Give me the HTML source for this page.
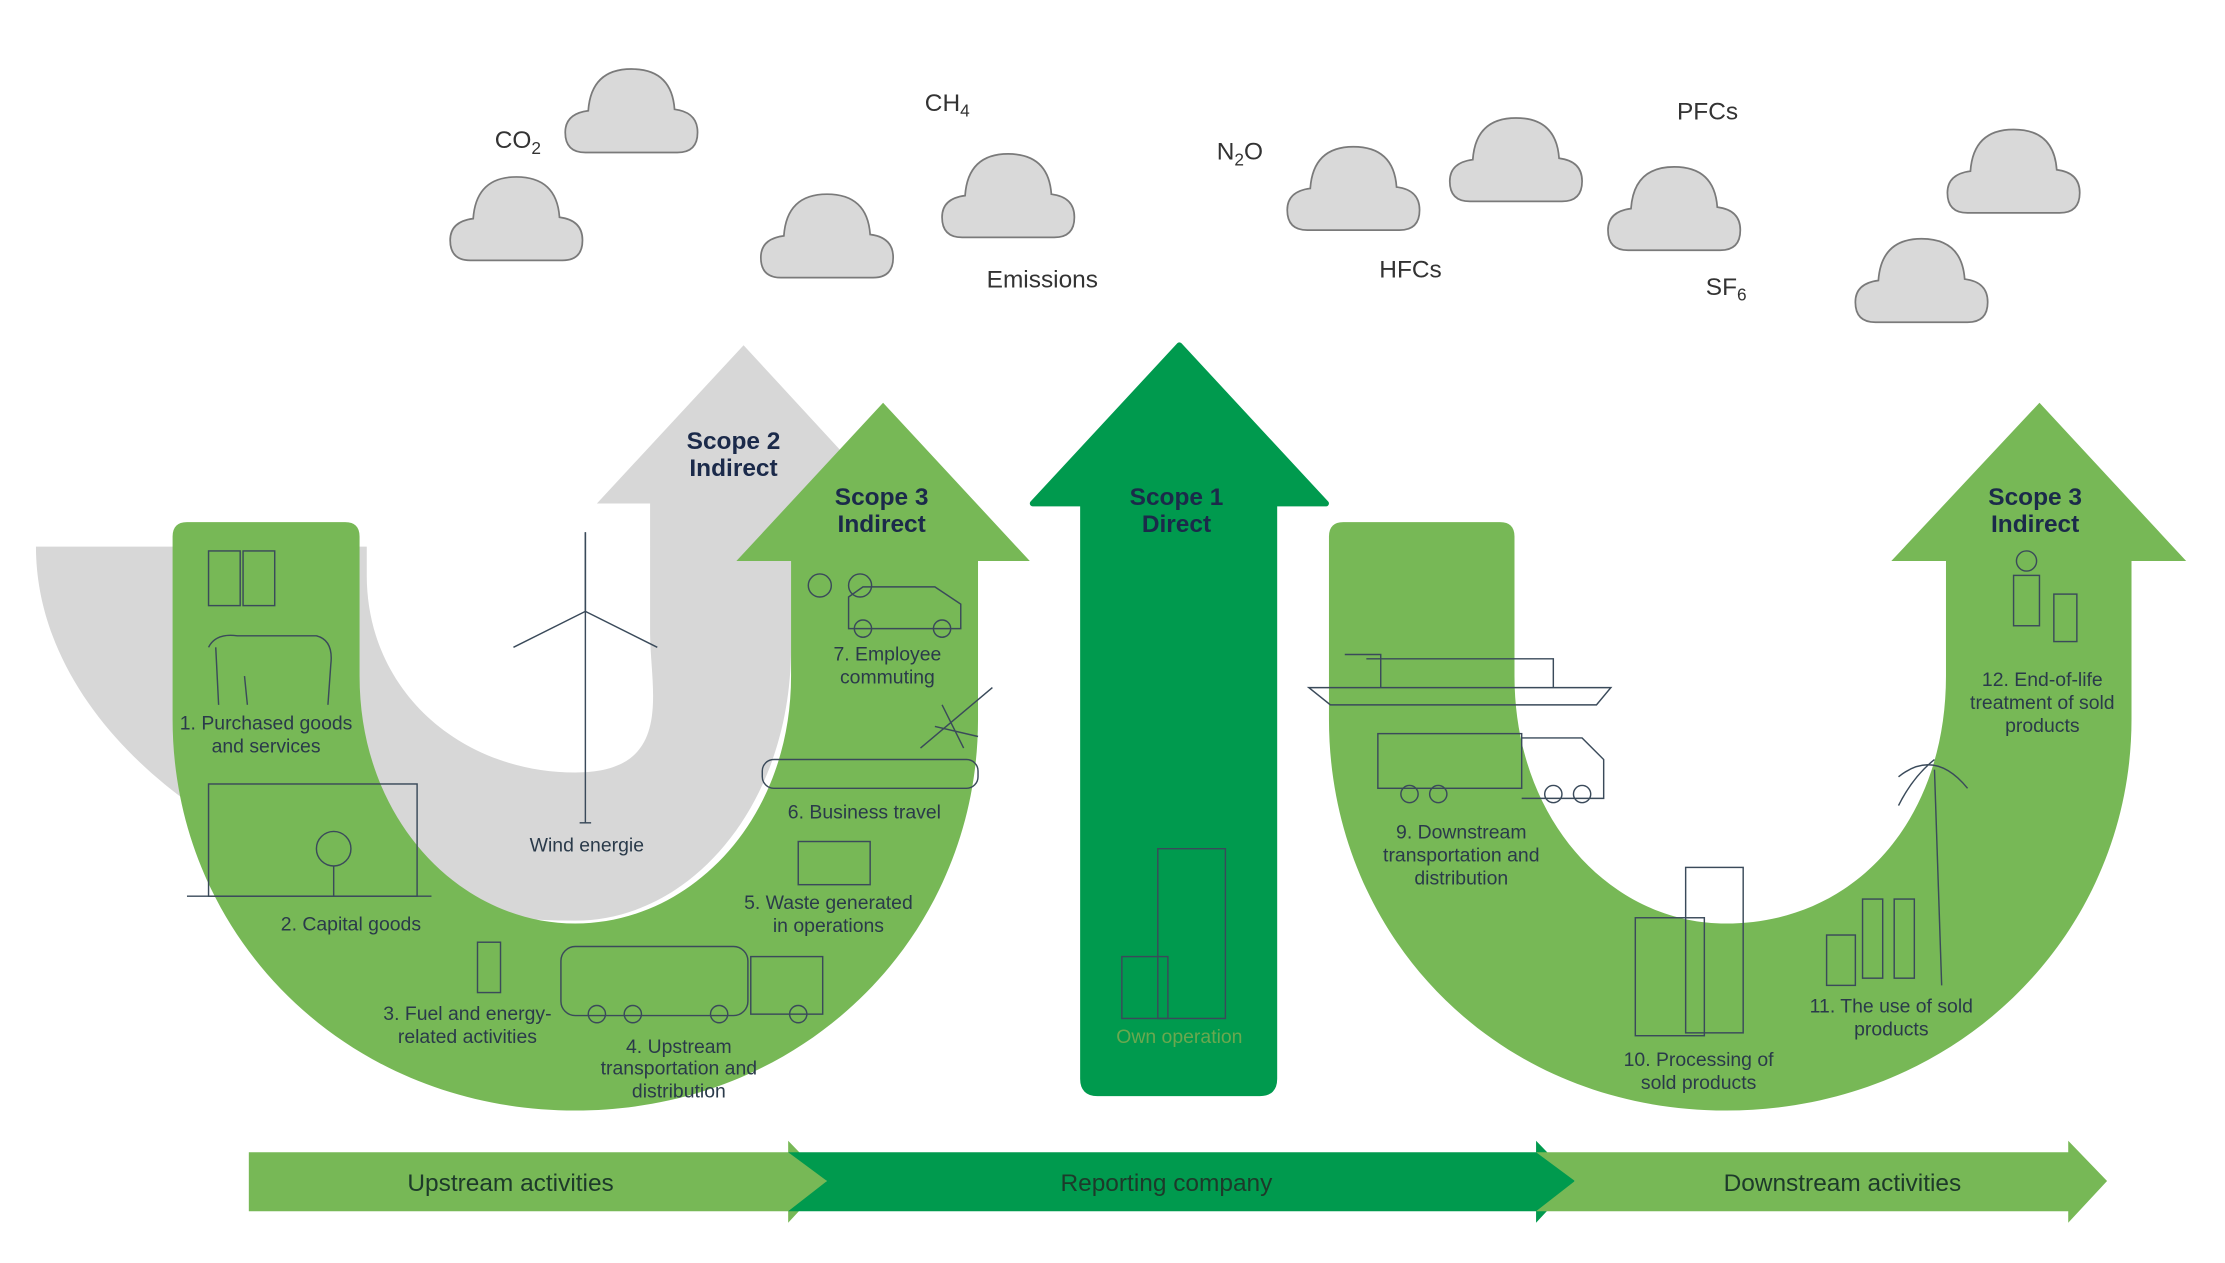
<!DOCTYPE html>
<html><head><meta charset="utf-8"><style>
html,body{margin:0;padding:0;background:#fff}
svg{display:block}
text{font-family:"Liberation Sans",sans-serif}
</style></head><body>
<svg width="2225" height="1263" viewBox="0 0 1547 878" preserveAspectRatio="none" xmlns="http://www.w3.org/2000/svg">
<defs>
<path id="cl" d="M-32,28 Q-46,28 -46,14 Q-46,1 -30,-1 Q-28,-30 0,-30 Q28,-30 30,-2 Q46,0 46,14 Q46,28 32,28 Z" fill="#d9d9d9" stroke="#7a7a7a" stroke-width="1.2"/>
</defs>
<rect width="1547" height="878" fill="#fff"/>
<!-- clouds -->
<use href="#cl" x="439" y="78"/>
<use href="#cl" x="359" y="153"/>
<use href="#cl" x="575" y="165"/>
<use href="#cl" x="701" y="137"/>
<use href="#cl" x="941" y="132"/>
<use href="#cl" x="1054" y="112"/>
<use href="#cl" x="1164" y="146"/>
<use href="#cl" x="1400" y="120"/>
<use href="#cl" x="1336" y="196"/>
<g fill="#333" font-size="17">
<text x="344" y="103">CO<tspan font-size="12" dy="4">2</tspan></text>
<text x="643" y="77">CH<tspan font-size="12" dy="4">4</tspan></text>
<text x="846" y="111">N<tspan font-size="12" dy="4">2</tspan><tspan dy="-4">O</tspan></text>
<text x="1166" y="83">PFCs</text>
<text x="686" y="200">Emissions</text>
<text x="959" y="193">HFCs</text>
<text x="1186" y="205">SF<tspan font-size="12" dy="4">6</tspan></text>
</g>
<!-- gray scope 2 -->
<path d="M25,380 L255,380 L255,400 C255,480 320,537 400,537 C470,537 452,480 452,440 L452,350 L415,350 L517,240 L600,330 L550,350 L550,450 C550,560 480,640 400,640 C200,640 25,520 25,380 Z" fill="#d7d7d7"/>
<!-- green left U -->
<path d="M130,363 L240,363 Q250,363 250,373 L250,470 C250,570 320,642 400,642 C480,642 550,570 550,470 L550,390 L512,390 L614,280 L716,390 L680,390 L680,500 C680,650 560,772 400,772 C240,772 120,650 120,500 L120,373 Q120,363 130,363 Z" fill="#77b856"/>
<!-- scope 1 -->
<path d="M753,350 L718,350 L820,240 L922,350 L886,350 L886,750 Q886,760 876,760 L763,760 Q753,760 753,750 Z" fill="#009a4e" stroke="#009a4e" stroke-width="4" stroke-linejoin="round"/>
<!-- green right U -->
<path d="M934,363 L1043,363 Q1053,363 1053,373 L1053,470 C1053,570 1120,642 1200,642 C1290,642 1353,570 1353,470 L1353,390 L1315,390 L1418,280 L1520,390 L1482,390 L1482,500 C1482,650 1360,772 1200,772 C1040,772 924,650 924,500 L924,373 Q924,363 934,363 Z" fill="#77b856"/>
<!-- bottom arrows -->
<path d="M173,801 L548,801 L548,793 L575,821 L548,850 L548,842 L173,842 Z" fill="#77b856"/>
<path d="M548,801 L1068,801 L1068,793 L1095,821 L1068,850 L1068,842 L548,842 L575,821 Z" fill="#009a4e"/>
<path d="M1068,801 L1438,801 L1438,793 L1465,821 L1438,850 L1438,842 L1068,842 L1095,821 Z" fill="#77b856"/>
<g font-size="17" fill="#1d3a2a" text-anchor="middle">
<text x="355" y="828">Upstream activities</text>
<text x="811" y="828">Reporting company</text>
<text x="1281" y="828">Downstream activities</text>
</g>
<!-- scope titles -->
<g font-size="17" font-weight="bold" fill="#1b2a4a" text-anchor="middle">
<text x="510" y="312">Scope 2</text><text x="510" y="331">Indirect</text>
<text x="613" y="351">Scope 3</text><text x="613" y="370">Indirect</text>
<text x="818" y="351">Scope 1</text><text x="818" y="370">Direct</text>
<text x="1415" y="351">Scope 3</text><text x="1415" y="370">Indirect</text>
</g>
<!-- icons (simplified line art) -->
<g fill="none" stroke="#3a4a5a" stroke-width="1">
<line x1="407" y1="370" x2="407" y2="572"/><line x1="403" y1="572" x2="411" y2="572"/>
<line x1="407" y1="425" x2="357" y2="450"/><line x1="407" y1="425" x2="457" y2="450"/><line x1="407" y1="425" x2="407" y2="370"/>
<rect x="145" y="383" width="22" height="38"/><rect x="169" y="383" width="22" height="38"/>
<path d="M145,450 Q150,440 165,442 L220,442 Q232,445 230,462 L228,490 M150,450 L152,490 M170,470 L172,490"/>
<rect x="145" y="545" width="145" height="78"/><line x1="130" y1="623" x2="300" y2="623"/>
<circle cx="232" cy="590" r="12"/><line x1="232" y1="602" x2="232" y2="623"/>
<rect x="332" y="655" width="16" height="35"/>
<rect x="390" y="658" width="130" height="48" rx="10"/><rect x="522" y="665" width="50" height="40"/>
<circle cx="415" cy="705" r="6"/><circle cx="440" cy="705" r="6"/><circle cx="500" cy="705" r="6"/><circle cx="555" cy="705" r="6"/>
<rect x="555" y="585" width="50" height="30"/>
<rect x="530" y="528" width="150" height="20" rx="8"/>
<path d="M590,415 L600,408 L650,408 L668,420 L668,437 L590,437 Z"/><circle cx="600" cy="437" r="6"/><circle cx="655" cy="437" r="6"/>
<circle cx="570" cy="407" r="8"/><circle cx="598" cy="407" r="8"/>
<path d="M640,520 L690,478 M655,490 L670,520 M650,505 L680,512"/>
<rect x="805" y="590" width="47" height="118"/><rect x="780" y="665" width="32" height="43"/>
<path d="M910,478 L1120,478 L1110,490 L925,490 Z M935,455 L960,455 L960,478 M950,458 L1080,458 L1080,478"/>
<rect x="958" y="510" width="100" height="38"/><path d="M1058,513 L1100,513 L1115,528 L1115,555 L1058,555"/>
<circle cx="980" cy="552" r="6"/><circle cx="1000" cy="552" r="6"/><circle cx="1080" cy="552" r="6"/><circle cx="1100" cy="552" r="6"/>
<rect x="1400" y="400" width="18" height="35"/><circle cx="1409" cy="390" r="7"/><rect x="1428" y="413" width="16" height="33"/>
<line x1="1345" y1="535" x2="1350" y2="685"/><path d="M1320,540 Q1345,520 1368,548 M1345,528 Q1330,540 1320,560"/>
<rect x="1137" y="638" width="48" height="82"/><rect x="1172" y="603" width="40" height="115"/>
<rect x="1270" y="650" width="20" height="35"/><rect x="1295" y="625" width="14" height="55"/><rect x="1317" y="625" width="14" height="55"/>
</g>
<!-- labels -->
<g font-size="13.5" fill="#2a3a4a" text-anchor="middle">
<text x="185" y="507">1. Purchased goods</text><text x="185" y="523">and services</text>
<text x="244" y="647">2. Capital goods</text>
<text x="325" y="709">3. Fuel and energy-</text><text x="325" y="725">related activities</text>
<text x="472" y="732">4. Upstream</text><text x="472" y="747">transportation and</text><text x="472" y="763">distribution</text>
<text x="576" y="632">5. Waste generated</text><text x="576" y="648">in operations</text>
<text x="601" y="569">6. Business travel</text>
<text x="617" y="459">7. Employee</text><text x="617" y="475">commuting</text>
<text x="408" y="592">Wind energie</text>
<text x="820" y="725" fill="#6aa84f">Own operation</text>
<text x="1016" y="583">9. Downstream</text><text x="1016" y="599">transportation and</text><text x="1016" y="615">distribution</text>
<text x="1181" y="741">10. Processing of</text><text x="1181" y="757">sold products</text>
<text x="1315" y="704">11. The use of sold</text><text x="1315" y="720">products</text>
<text x="1420" y="477">12. End-of-life</text><text x="1420" y="493">treatment of sold</text><text x="1420" y="509">products</text>
</g>
</svg>
</body></html>
